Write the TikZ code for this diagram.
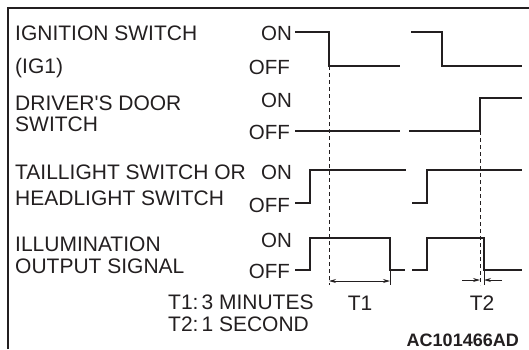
\documentclass[tikz,border=0pt]{standalone}
\usepackage{fontspec}
\setmainfont{Liberation Sans}
\usetikzlibrary{arrows.meta}
\definecolor{ink}{HTML}{231F20}
\begin{document}
\begin{tikzpicture}[x=1pt,y=-1pt,
  lbl/.style={anchor=base west,inner sep=0pt,text=ink,font=\fontsize{21}{23}\selectfont},
  lvl/.style={anchor=base east,inner sep=0pt,text=ink,font=\fontsize{20.5}{23}\selectfont},
  wave/.style={draw=ink,line width=1.8pt,line join=miter},
  frame/.style={draw=ink,line width=1.6pt},
  guide/.style={draw=ink,line width=0.8pt,dash pattern=on 4pt off 3pt},
  dim/.style={draw=ink,line width=0.8pt},
  dimarrow/.style={draw=ink,line width=0.8pt,-{Stealth[length=7pt,width=4pt]}},
  dimboth/.style={draw=ink,line width=0.8pt,{Stealth[length=7pt,width=4pt]}-{Stealth[length=7pt,width=4pt]}}]
\useasboundingbox (0,0) rectangle (529,349);
% frame
\draw[frame] (8,349) -- (8,8) -- (529,8);
% left labels
\node[lbl] (l1) at (15,40) {IGNITION SWITCH};
\node[lbl] (l2) at (15,73) {(IG1)};
\node[lbl] (l3) at (15,110) {DRIVER\textquotesingle S DOOR};
\node[lbl] (l4) at (15,131) {SWITCH};
\node[lbl] (l5) at (15,179) {TAILLIGHT SWITCH OR};
\node[lbl] (l6) at (15,205) {HEADLIGHT SWITCH};
\node[lbl] (l7) at (15,251) {ILLUMINATION};
\node[lbl] (l8) at (15,273) {OUTPUT SIGNAL};
\node[lbl] (n1) at (168,309) {T1:\hspace{3pt}3 MINUTES};
\node[lbl] (n2) at (168,331) {T2:\hspace{3pt}1 SECOND};
% ON / OFF labels
\node[lvl] (on1) at (292,40) {ON};
\node[lvl] (off1) at (290,74) {OFF};
\node[lvl] (on2) at (292,107) {ON};
\node[lvl] (off2) at (290,139) {OFF};
\node[lvl] (on3) at (292,179) {ON};
\node[lvl] (off3) at (290,212) {OFF};
\node[lvl] (on4) at (292,247) {ON};
\node[lvl] (off4) at (290,278) {OFF};
% waveforms: ignition
\draw[wave] (295,32) -- (329,32) -- (329,66) -- (400,66);
\draw[wave] (411,32) -- (442,32) -- (442,66) -- (522,66);
% door
\draw[wave] (295,131) -- (400,131);
\draw[wave] (409,131) -- (480,131) -- (480,98) -- (522,98);
% taillight
\draw[wave] (295,203) -- (310,203) -- (310,170) -- (406,170);
\draw[wave] (412,203) -- (427,203) -- (427,170) -- (522,170);
% illumination
\draw[wave] (295,270) -- (310,270) -- (310,238) -- (390,238) -- (390,270) -- (405,270);
\draw[wave] (412,270) -- (427,270) -- (427,238) -- (484,238) -- (484,270) -- (522,270);
% guide lines
\coordinate (g1t) at (329,66);
\coordinate (g1b) at (329,285);
\coordinate (g2t) at (480,131);
\coordinate (g2b) at (480,285);
\draw[guide] (g1t) -- (g1b);
\draw[guide] (g2t) -- (g2b);
\coordinate (e1t) at (390,270);
\coordinate (e1b) at (390,285);
\coordinate (e2t) at (484,270);
\coordinate (e2b) at (484,285);
\draw[dim] (e1t) -- (e1b);
\draw[dim] (e2t) -- (e2b);
% T1 dimension
\coordinate (t1a) at (329,281);
\coordinate (t1b) at (390,281);
\draw[dimboth] (t1a) -- (t1b);
\node[lbl,anchor=base] (t1) at (360,310) {T1};
% T2 dimension
\coordinate (t2l) at (462,280);
\coordinate (t2la) at (480,280);
\coordinate (t2r) at (502,280);
\coordinate (t2ra) at (484,280);
\draw[dimarrow] (t2l) -- (t2la);
\draw[dimarrow] (t2r) -- (t2ra);
\node[lbl,anchor=base] (t2) at (482,310) {T2};
% code
\node[anchor=base east,inner sep=0pt,text=ink,font=\fontsize{18}{20}\selectfont\bfseries] (code) at (519,346) {AC101466AD};
\end{tikzpicture}
\end{document}
